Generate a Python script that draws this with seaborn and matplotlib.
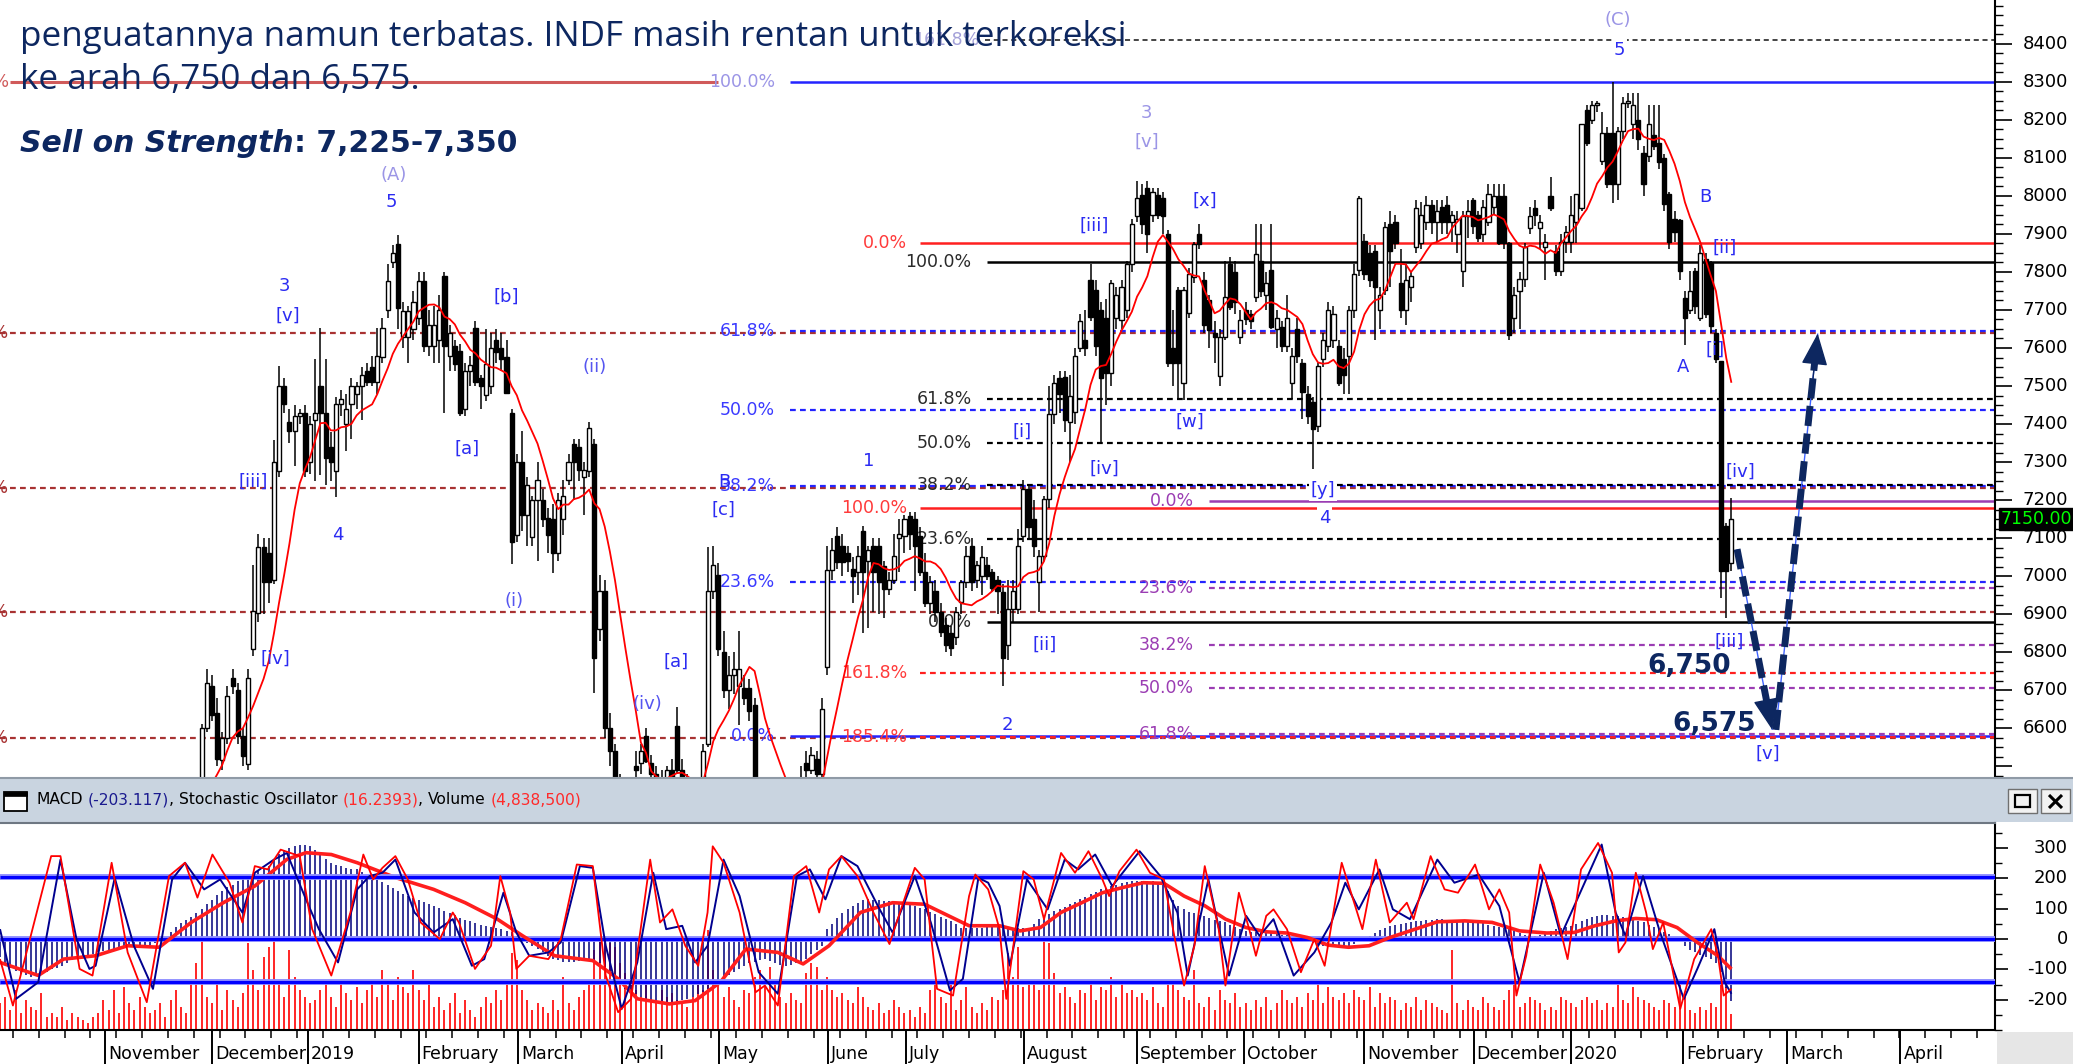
import numpy as np
import pandas as pd
import matplotlib
matplotlib.use("Agg")
import matplotlib.pyplot as plt
import seaborn as sns
from matplotlib.patches import Rectangle
from matplotlib.lines import Line2D
from matplotlib.ticker import MultipleLocator

# ====================== DATA ======================
first_candle_day = 30   # trading-day index of first candle (x axis = trading days)

opens = [
    6150, 6200, 6230, 6280, 6320, 6300, 6380, 6420, 6440, 6450,
    6600, 6712, 6640, 6517, 6575, 6733, 6700, 6580, 6505, 6809,
    6903, 7078, 7060, 6990, 7277, 7500, 7406, 7383, 7420, 7429,
    7300, 7410, 7500, 7429, 7340, 7277, 7453, 7400, 7453, 7480,
    7500, 7540, 7550, 7510, 7576, 7699, 7827, 7874, 7628, 7628,
    7650, 7680, 7775, 7605, 7605, 7620, 7790, 7580, 7605, 7593,
    7440, 7540, 7652, 7520, 7476, 7500, 7620, 7600, 7576, 7429,
    7108, 7300, 7160, 7102, 7201, 7200, 7154, 7150, 7060, 7150,
    7254, 7347, 7340, 7260, 7277, 7347, 6860, 6960, 6600, 6540,
    6450, 6400, 6420, 6500, 6510, 6580, 6510, 6480, 6460, 6450,
    6490, 6605, 6490, 6450, 6400, 6430, 6400, 6560, 6961, 7002,
    6800, 6700, 6740, 6710, 6705, 6705, 6660, 6430, 6360, 6390,
    6350, 6320, 6360, 6400, 6380, 6440, 6510, 6490, 6520, 6480,
    6760, 7016, 7106, 7080, 7060, 7020, 7011, 7120, 7040, 7080,
    7080, 7028, 6967, 6990, 7100, 7106, 7157, 7150, 7106, 7011,
    6930, 6960, 6906, 6872, 6850, 6840, 6933, 6985, 7080, 6990,
    7000, 7030, 7010, 6990, 6958, 6820, 6915, 6915, 7106, 7228,
    7150, 6985, 7054, 7202, 7427, 7520, 7523, 7405, 7431, 7601,
    7622, 7778, 7752, 7700, 7680, 7535, 7680, 7673, 7700, 7820,
    7947, 8003, 8020, 7950, 8003, 7995, 7899, 7600, 7752, 7509,
    7691, 7787, 7899, 7780, 7726, 7640, 7526, 7630, 7821, 7800,
    7630, 7700, 7690, 7735, 7830, 7740, 7804, 7650, 7656, 7604,
    7509, 7650, 7561, 7480, 7457, 7396, 7570, 7604, 7620, 7604,
    7570, 7578, 7700, 7804, 7882, 7850, 7856, 7700, 7752, 7925,
    7930, 7770, 7700, 7760, 7865, 7875, 7930, 7976, 7930, 7970,
    7976, 7930, 7900, 7803, 7947, 7990, 7950, 7900, 7930, 7970,
    7999, 7999, 7875, 7680, 7751, 7782, 7916, 7968, 7916, 7865,
    7999, 7854, 7803, 7880, 7880, 7930, 7967, 8225, 8200, 8240,
    8091, 8165, 8165, 8032, 8170, 8243, 8190, 8200, 8114, 8105,
    8160, 8140, 8100, 8004, 7940, 7937, 7731, 7700, 7803, 7679,
    7834, 7823, 7640, 7566, 7132, 7034,
]
highs = [
    6220, 6260, 6300, 6350, 6380, 6400, 6450, 6460, 6465, 6612,
    6756, 6740, 6680, 6590, 6710, 6756, 6720, 6600, 6756, 7030,
    7110, 7100, 7100, 7358, 7552, 7520, 7440, 7450, 7440, 7450,
    7420, 7570, 7652, 7570, 7380, 7470, 7490, 7480, 7520, 7510,
    7550, 7560, 7580, 7652, 7680, 7821, 7870, 7897, 7720, 7710,
    7750, 7800, 7800, 7700, 7710, 7740, 7800, 7660, 7620, 7610,
    7560, 7580, 7670, 7530, 7650, 7640, 7650, 7640, 7620, 7440,
    7320, 7383, 7260, 7210, 7300, 7230, 7180, 7190, 7220, 7254,
    7320, 7360, 7360, 7300, 7406, 7360, 7003, 6990, 6640, 6560,
    6480, 6450, 6470, 6540, 6560, 6600, 6530, 6500, 6490, 6500,
    6520, 6657, 6520, 6480, 6450, 6470, 6560, 7078, 7080, 7034,
    6855, 6790, 6800, 6855, 6740, 6730, 6680, 6460, 6420, 6440,
    6400, 6380, 6420, 6440, 6460, 6500, 6540, 6550, 6540, 6680,
    7080, 7100, 7130, 7110, 7080, 7050, 7080, 7132, 7080, 7100,
    7100, 7040, 7010, 7110, 7150, 7160, 7170, 7170, 7130, 7060,
    7000, 6990, 6930, 6890, 6870, 6920, 6990, 7080, 7100, 7040,
    7080, 7050, 7020, 7000, 6980, 6990, 6990, 7125, 7254, 7240,
    7200, 7070, 7210, 7500, 7530, 7540, 7540, 7530, 7600, 7690,
    7700, 7820, 7780, 7720, 7730, 7780, 7760, 7780, 7830, 7940,
    8038, 8030, 8038, 8020, 8020, 8010, 7910, 7700, 7760, 7760,
    7810, 7880, 7925, 7800, 7740, 7670, 7650, 7830, 7840, 7830,
    7700, 7720, 7700, 7925, 7925, 7800, 7925, 7700, 7670, 7740,
    7600, 7680, 7570, 7500, 7470, 7560, 7640, 7720, 7710, 7620,
    7600, 7710, 7820, 8000, 7900, 7870, 7870, 7760, 7930, 7960,
    7950, 7860, 7820, 7800, 7990, 7985, 8000, 7990, 7990, 7990,
    8000, 7960, 7960, 7960, 7990, 7995, 7960, 7990, 8030, 8030,
    8030, 8030, 7880, 7760, 7800, 7875, 7970, 7990, 7950, 7900,
    8050, 7870, 7900, 7920, 8000, 8004, 8188, 8240, 8250, 8250,
    8220, 8180, 8300, 8180, 8260, 8270, 8270, 8270, 8130, 8240,
    8240, 8240, 8110, 8010, 7960, 7940, 7750, 7803, 7810, 7870,
    7850, 7830, 7650, 7566, 7140, 7205,
]
lows = [
    6100, 6150, 6200, 6250, 6280, 6290, 6350, 6380, 6400, 6440,
    6590, 6620, 6500, 6490, 6560, 6690, 6560, 6500, 6490, 6790,
    6880, 6900, 6930, 6980, 7260, 7430, 7350, 7290, 7400, 7260,
    7270, 7250, 7266, 7240, 7250, 7207, 7420, 7330, 7360, 7440,
    7410, 7500, 7500, 7480, 7560, 7680, 7810, 7650, 7600, 7560,
    7620, 7660, 7590, 7580, 7560, 7560, 7429, 7540, 7540, 7420,
    7420, 7500, 7500, 7440, 7460, 7480, 7560, 7540, 7480, 7031,
    7090, 7120, 7080, 7080, 7040, 7130, 7061, 7008, 7040, 7108,
    7240, 7200, 7250, 7160, 7260, 6692, 6830, 6575, 6500, 6430,
    6380, 6350, 6380, 6470, 6480, 6510, 6460, 6430, 6420, 6440,
    6440, 6480, 6420, 6380, 6360, 6380, 6390, 6550, 6940, 6790,
    6680, 6650, 6690, 6610, 6660, 6620, 6400, 6340, 6300, 6330,
    6280, 6270, 6330, 6360, 6350, 6400, 6470, 6480, 6460, 6470,
    6740, 6990, 7020, 7000, 7010, 6930, 6950, 6850, 6863, 6906,
    6900, 6890, 6950, 6980, 7010, 7060, 7070, 6960, 7000, 6920,
    6900, 6880, 6840, 6800, 6790, 6820, 6900, 6970, 6960, 6970,
    6950, 6990, 6960, 6900, 6710, 6780, 6880, 6900, 7090, 7100,
    7050, 6906, 7040, 7180, 7400, 7430, 7380, 7300, 7400, 7590,
    7580, 7670, 7580, 7353, 7450, 7500, 7650, 7650, 7680, 7800,
    7930, 7900, 7850, 7930, 7940, 7900, 7550, 7500, 7462, 7462,
    7680, 7770, 7860, 7640, 7600, 7560, 7500, 7620, 7700, 7690,
    7610, 7660, 7650, 7720, 7735, 7700, 7650, 7600, 7590, 7590,
    7465, 7560, 7413, 7400, 7283, 7380, 7550, 7590, 7600, 7500,
    7480, 7480, 7680, 7790, 7780, 7760, 7620, 7650, 7740, 7760,
    7860, 7680, 7660, 7720, 7850, 7860, 7910, 7900, 7880, 7900,
    7900, 7880, 7850, 7760, 7890, 7900, 7880, 7880, 7920, 7950,
    7870, 7860, 7620, 7640, 7650, 7760, 7900, 7920, 7860, 7780,
    7960, 7790, 7790, 7850, 7850, 7875, 7960, 8130, 8190, 8220,
    8080, 8020, 7981, 7990, 8150, 8230, 8150, 8120, 8000, 8090,
    8120, 8070, 7960, 7860, 7880, 7780, 7607, 7690, 7690, 7670,
    7680, 7640, 7560, 6942, 6890, 7014,
]
closes = [
    6200, 6230, 6280, 6320, 6300, 6380, 6420, 6440, 6450, 6600,
    6720, 6634, 6520, 6575, 6686, 6710, 6580, 6528, 6733, 6908,
    7078, 6985, 6985, 7300, 7500, 7453, 7383, 7420, 7430, 7277,
    7400, 7430, 7429, 7312, 7300, 7453, 7465, 7440, 7500, 7500,
    7530, 7510, 7510, 7580, 7652, 7775, 7850, 7704, 7698, 7698,
    7720, 7775, 7605, 7660, 7660, 7700, 7605, 7640, 7558, 7429,
    7540, 7555, 7511, 7500, 7558, 7600, 7590, 7570, 7482, 7090,
    7300, 7160, 7240, 7201, 7254, 7150, 7108, 7060, 7200, 7210,
    7300, 7300, 7280, 7280, 7390, 6786, 6960, 6600, 6540, 6450,
    6400, 6420, 6440, 6490, 6540, 6513, 6480, 6460, 6450, 6490,
    6470, 6490, 6450, 6400, 6430, 6400, 6540, 6960, 7029, 6809,
    6700, 6740, 6756, 6756, 6680, 6645, 6430, 6360, 6390, 6350,
    6320, 6360, 6400, 6380, 6440, 6460, 6490, 6530, 6480, 6650,
    7016, 7070, 7037, 7037, 7040, 7000, 7054, 7011, 7070, 7011,
    6985, 6967, 6990, 7054, 7110, 7150, 7110, 7080, 7011, 6930,
    6985, 6906, 6854, 6820, 6810, 6906, 6985, 7054, 6985, 7030,
    7050, 7000, 6970, 6960, 6785, 6915, 6960, 7080, 7228, 7130,
    7080, 7054, 7202, 7427, 7509, 7480, 7410, 7474, 7578, 7670,
    7600, 7682, 7604, 7520, 7535, 7770, 7740, 7760, 7820, 7925,
    7995, 7925, 7899, 8010, 7950, 7947, 7561, 7560, 7561, 7752,
    7795, 7873, 7873, 7660, 7648, 7630, 7630, 7735, 7708, 7720,
    7674, 7675, 7670, 7847, 7750, 7770, 7656, 7680, 7604, 7680,
    7578, 7580, 7483, 7420, 7388, 7552, 7620, 7700, 7690, 7509,
    7530, 7700, 7795, 7995, 7795, 7780, 7761, 7740, 7917, 7856,
    7875, 7700, 7780, 7790, 7969, 7949, 7976, 7930, 7960, 7930,
    7930, 7950, 7940, 7947, 7960, 7920, 7890, 7970, 8004, 8000,
    7875, 7875, 7633, 7740, 7782, 7865, 7947, 7950, 7930, 7880,
    7968, 7803, 7880, 7905, 7950, 8004, 8188, 8138, 8240, 8245,
    8165, 8032, 8032, 8170, 8243, 8250, 8240, 8150, 8032, 8188,
    8130, 8090, 7978, 7880, 7906, 7803, 7679, 7751, 7710, 7849,
    7690, 7659, 7570, 7014, 7014, 7150,
]

# MACD (blue histogram), one value per trading day 0..335
macd_hist = [
    -60, -80, -95, -105, -115, -120, -125, -122, -115, -110,
    -100, -95, -88, -80, -70, -66, -60, -55, -50, -44,
    -38, -35, -33, -30, -28, -26, -24, -22, -20, -18,
    -12, -5, 8, 25, 40, 52, 62, 72, 85, 100,
    115, 130, 145, 160, 172, 180, 190, 197, 205, 215,
    225, 235, 242, 260, 280, 295, 302, 307, 312, 310,
    307, 295, 280, 265, 252, 245, 240, 236, 232, 230,
    222, 212, 204, 196, 188, 180, 170, 160, 150, 142,
    135, 128, 122, 116, 110, 102, 94, 86, 78, 70,
    64, 58, 52, 48, 44, 40, 36, 32, 28, 22,
    10, 0, -12, -22, -33, -44, -55, -66, -70, -74,
    -77, -76, -72, -68, -66, -70, -80, -92, -110, -130,
    -150, -165, -175, -182, -190, -197, -200, -204, -207, -208,
    -208, -205, -200, -197, -190, -182, -174, -164, -152, -140,
    -128, -120, -108, -98, -88, -80, -74, -70, -66, -72,
    -80, -85, -88, -85, -80, -77, -65, -50, -35, -22,
    33, 50, 68, 85, 99, 110, 120, 128, 131, 130,
    128, 126, 124, 122, 121, 120, 115, 110, 104, 99,
    90, 82, 74, 66, 58, 50, 38, 36, 36, 37,
    38, 40, 42, 44, 40, 36, 34, 35, 36, 38,
    50, 66, 75, 84, 92, 99, 107, 115, 123, 131,
    140, 148, 156, 164, 170, 175, 180, 186, 188, 190,
    191, 192, 191, 190, 188, 186, 160, 130, 110, 100,
    90, 86, 80, 77, 70, 64, 60, 55, 48, 40,
    33, 27, 25, 23, 22, 21, 20, 18, 15, 12,
    8, 4, 0, -6, -12, -18, -22, -25, -27, -27,
    -25, -22, -15, -5, 5, 11, 20, 30, 38, 42,
    46, 50, 52, 55, 58, 60, 62, 64, 66, 66,
    64, 62, 60, 58, 57, 56, 55, 52, 48, 44,
    40, 38, 34, 28, 20, 15, 12, 11, 15, 22,
    28, 32, 36, 40, 44, 50, 58, 65, 72, 77,
    78, 78, 77, 77, 74, 70, 64, 58, 55, 48,
    40, 32, 24, 16, 6, -5, -22, -35, -44, -52,
    -60, -66, -80, -110, -160, -203.117,
]

# Volume in millions of shares, one value per trading day 0..335
volume_m = [
    8, 10, 6, 12, 5, 9, 7, 6, 11, 4,
    5, 4, 7, 3, 5, 4, 3, 2, 4, 5,
    9, 6, 12, 5, 13, 8, 6, 10, 7, 5,
    6, 8, 4, 9, 12, 7, 5, 14, 20, 28,
    10, 8, 14, 6, 12, 9, 7, 11, 26, 18,
    12, 22, 25, 27, 14, 10, 24, 16, 12, 10,
    8, 9, 12, 14, 10, 7, 15, 11, 9, 13,
    8, 12, 15, 10, 18, 14, 9, 16, 13, 11,
    18, 12, 9, 14, 7, 10, 6, 8, 11, 5,
    9, 6, 4, 7, 10, 8, 12, 9, 14, 23,
    21, 12, 9, 6, 8, 7, 5, 9, 6, 16,
    8, 6, 10, 12, 14, 24, 28, 27, 26, 25,
    20, 17, 14, 12, 10, 15, 9, 8, 12, 10,
    11, 9, 8, 7, 10, 14, 12, 30, 18, 15,
    10, 13, 9, 7, 12, 11, 16, 18, 13, 19,
    14, 10, 8, 11, 9, 8, 17, 20, 19, 12,
    16, 12, 10, 11, 9, 8, 13, 10, 7, 6,
    8, 5, 6, 9, 7, 5, 6, 4, 7, 5,
    12, 15, 10, 8, 14, 6, 9, 13, 7, 5,
    8, 6, 10, 9, 12, 23, 16, 25, 13, 14,
    15, 12, 28, 26, 17, 11, 13, 10, 8, 12,
    11, 14, 9, 13, 12, 16, 10, 14, 11, 12,
    10, 11, 9, 13, 8, 7, 15, 14, 12, 10,
    9, 18, 8, 7, 10, 6, 12, 9, 8, 11,
    7, 8, 6, 9, 7, 10, 6, 8, 12, 9,
    8, 10, 7, 11, 9, 14, 8, 13, 10, 9,
    11, 8, 12, 10, 9, 13, 7, 11, 8, 10,
    9, 6, 8, 7, 10, 6, 9, 8, 7, 6,
    5, 24, 8, 6, 9, 7, 6, 10, 8, 7,
    6, 9, 12, 14, 7, 8, 10, 9, 8, 6,
    7, 6, 10, 9, 8, 7, 9, 10, 8, 9,
    6, 8, 7, 15, 9, 8, 13, 10, 9, 8,
    7, 6, 9, 8, 7, 14, 10, 6, 5, 7,
    6, 8, 7, 14, 13, 4.8385,
]

# Stochastic %K (red) and %D (blue), read at turning points
stoch_k_day = [0, 2.5, 9.9, 11.7, 15.4, 17.9, 21.6, 24.7, 28.4, 32.7,
               35.8, 38.2, 41.1, 44.4, 46.9, 49.3, 51.8, 54.3, 58, 60.4,
               64.1, 67.8, 70.3, 72.2, 74, 76.5, 78.9, 81.4, 85.1, 87.6,
               88.8, 91.9, 95, 96.8, 98.7, 99.9, 102.4, 106.1, 108.5, 111.6,
               114.7, 117.2, 119.6, 122.1, 125.8, 127.7, 130.1, 132.6, 135.1, 136.9,
               137.9, 140, 143.1, 146.2, 148, 150.5, 153.6, 156, 158.5, 160.4,
               162.8, 165.9, 169, 172.1, 175.2, 177, 178.9, 181.3, 184.4, 187.5,
               188.7, 191.2, 193.4,
               194.7, 198, 200, 202, 205.3, 208, 210.6, 213.3, 214.6, 216.6,
               219.9, 222.5, 225.2, 227.2, 229.1, 231.1, 233.1, 235.8, 237.1, 239.7,
               241.7, 243, 245, 246.4, 249, 251.7, 254.3, 256.3, 259.6, 261.6,
               263.6, 266.2, 268.9, 272.2, 273.5, 276.8, 279.5, 282.1, 285.4, 288.1,
               290.1, 292, 293.4, 295.3, 298, 300.6, 303.3, 305.9, 309.2, 311.9,
               313.2, 314.5, 316.5, 318.5, 319.8, 321.8, 325.1, 327.8, 331.1, 332.4,
               333.5, 335]
stoch_k = [33.2, 6.7, 92, 92, 27.6, 23.8, 88.2, 37, 8.6, 80.6,
           88.2, 68.3, 92.9, 76.8, 54.1, 86.3, 84.4, 95.7, 92, 50.3,
           23.8, 59.8, 92.9, 78.7, 85.3, 92, 78.7, 54.1, 44.6, 59.8,
           54.1, 27.6, 40.8, 80.6, 59.8, 27.6, 35.1, 33.2, 44.6, 87.2,
           86.3, 23.8, 2.9, 10.5, 90, 54.1, 61.6, 40.8, 29.4, 59.8,
           97.6, 88.2, 59.8, 14.3, 18.1, 6.7, 80.6, 86.3, 59.8, 84.4,
           92, 80.6, 59.8, 41.8, 69.2, 85.3, 78.7, 16.2, 12.4, 69.2,
           81.5, 73, 50.3,
           10.5, 83.4, 78.7, 56, 93.8, 82.5, 94.8, 78.7, 69.2, 83.4,
           95.7, 82.5, 78.7, 46.5, 18.1, 40.8, 86.3, 50.3, 18.1, 71.1,
           50.3, 35.1, 57.9, 61.6, 50.3, 25.7, 44.6, 29.4, 88.2, 69.2,
           50.3, 90, 54.1, 65.4, 56, 92, 73, 71.1, 87.2, 61.6,
           73, 59.8, 12.4, 35.1, 87.2, 65.4, 33.2, 84.4, 99.5, 82.5,
           37, 42.7, 82.5, 59.8, 38.9, 54.1, 4.8, 33.2, 50.3, 35.1,
           12.4, 16.2393]
stoch_d_day = [0, 3.1, 7.4, 11.7, 14.8, 17.3, 18.5, 22.2, 25.9, 29.6,
               33.3, 35.8, 39.5, 42.6, 46.9, 49.3, 53, 55.5, 59.2, 61.7,
               65.4, 69.1, 71.5, 74, 76.5, 80.2, 83.9, 87.6, 91.3, 93.7,
               97.4, 99.9, 102.4, 106.1, 108.5, 112.2, 114.7, 117.2, 120.3, 123.3,
               126.4, 128.9, 132, 134.5, 136.9, 140, 143.1, 146.8, 150.5, 154.2,
               156.7, 159.7, 162.8, 165.9, 170.2, 172.7, 177, 180.1, 183.8, 186.3,
               189.3, 191.2, 193.4,
               195.4, 198.7, 202.7, 206, 208.6, 211.9, 215.2, 220.5, 224.5, 227.8,
               229.8, 233.8, 237.8, 241.1, 243.7, 246.4, 250.3, 254.3, 257.6, 260.3,
               262.9, 266.9, 269.5, 272.8, 278.1, 281.4, 286.1, 290.1, 294, 298.7,
               302, 306.6, 309.9, 312.6, 314.5, 317.9, 321.2, 325.8, 328.4, 331.7,
               333.7, 335]
stoch_d = [50.3, 10.5, 20, 90, 44.6, 27.6, 29.4, 79.6, 40.8, 16.2,
           78.7, 88.2, 73, 78.7, 59.8, 82.5, 90, 93.8, 67.3, 50.3,
           31.3, 73, 80.6, 82.5, 90, 59.8, 48.4, 56, 29.4, 33.2,
           71.1, 48.4, 35.1, 37, 42.7, 86.3, 85.3, 40.8, 4.8, 31.3,
           82.5, 50.3, 52.2, 31.3, 40.8, 90, 69.2, 25.7, 13.4, 80.6,
           84.4, 67.3, 92, 86.3, 61.6, 48.4, 80.6, 54.1, 15.3, 21.9,
           79.6, 76.8, 63.5,
           29.4, 78.7, 61.6, 90, 84.4, 92.9, 74.9, 94.8, 80.6, 59.8,
           23.8, 78.7, 23.8, 57.9, 46.5, 56, 23.8, 37, 54.1, 76.8,
           61.6, 84.4, 61.6, 56, 90, 76.8, 81.5, 63.5, 20, 82.5,
           46.5, 76.8, 98.6, 59.8, 46.5, 80.6, 48.4, 10.5, 27.6, 50.3,
           20, 13.4]

# MACD signal line (thick red)
signal_day = [0, 7.4, 12.3, 18.5, 24.7, 30.8, 37, 43.2, 49.3, 55.5,
              59.2, 64.1, 69.1, 76.5, 83.9, 90, 96.2, 101.1, 107.3, 114.7,
              119.6, 123.3, 129.5, 134.5, 139.4, 144.3, 150.5, 155.4, 160.4, 166.5,
              172.7, 178.9, 187.5, 193.4,
              197.4, 201.3, 205.3, 209.3, 213.3, 217.2, 221.2, 225.2, 229.1, 233.1,
              237.1, 241.1, 245, 249, 253, 257, 260.9, 264.9, 268.9, 272.8,
              278.1, 283.4, 288.7, 294, 299.3, 304.6, 308.6, 312.6, 316.5, 320.5,
              324.5, 328.4, 332.4, 335]
signal_val = [-77, -120, -66, -55, -22, -27, 55, 120, 175, 263,
              285, 279, 252, 203, 164, 120, 66, 11, -55, -71,
              -131, -197, -214, -203, -142, -33, -44, -82, -22, 88,
              120, 115, 44, 44,
              27, 38, 88, 120, 153, 170, 186, 184, 142, 110,
              66, 38, 24, 20, 5, -20, -27, -22, 5, 27,
              57, 60, 55, 27, 20, 22, 44, 60, 68, 64,
              38, -11, -55, -99]

# x axis: first trading day of each month
month_labels = ['November', 'December', '2019', 'February', 'March', 'April', 'May',
                'June', 'July', 'August', 'September', 'October', 'November',
                'December', '2020', 'February', 'March', 'April']
month_day = [20.3, 41.0, 59.6, 81.0, 100.2, 120.3, 139.1, 160.2, 175.2, 198.1,
             219.9, 240.6, 264.0, 285.1, 303.9, 325.7, 345.8, 367.7]

price_tick_labels = [8400, 8300, 8200, 8100, 8000, 7900, 7800, 7700, 7600, 7500,
                     7400, 7300, 7200, 7100, 7000, 6900, 6800, 6700, 6600]
ind_tick_labels = [300, 200, 100, 0, -100, -200]
last_price = 7150.00

# Fibonacci levels drawn on the chart
red_fib_levels = [7875, 7180, 6745, 6578]
red_fib_labels = ['0.0%', '100.0%', '161.8%', '185.4%']
black_fib_levels = [7827, 7465, 7350, 7240, 7097, 6880]
black_fib_labels = ['100.0%', '61.8%', '50.0%', '38.2%', '23.6%', '0.0%']
blue_fib_levels = [8300, 7645, 7437, 7236, 6985, 6581]
blue_fib_labels = ['100.0%', '61.8%', '50.0%', '38.2%', '23.6%', '0.0%']
purple_fib_levels = [7198, 6968, 6820, 6705, 6586]
purple_fib_labels = ['0.0%', '23.6%', '38.2%', '50.0%', '61.8%']
darkred_levels = [8300, 7640, 7232, 6905, 6575]
darkred_labels = ['100.0%', '61.8%', '38.2%', '23.6%', '0.0%']
ext_level = 8410
ext_label = '161.8%'

# Elliott-wave labels
wave_text = ['(A)', '5', '3', '[v]', '[iii]', '4', '[iv]', '[a]', '[b]', '(ii)',
             '(i)', '(iv)', '[a]', 'B', '[c]', '1', '2', '[i]', '[ii]', '[iii]',
             '[iv]', '3', '[v]', '[x]', '[w]', '[y]', '4', '(C)', '5', 'B',
             '[ii]', 'A', '[i]', '[iv]', '[iii]', '[v]']
wave_day = [76.1, 75.8, 55.1, 55.6, 49.0, 65.3, 53.2, 90.4, 98.0, 115.0,
            99.4, 125.2, 130.8, 140.2, 140.0, 168.0, 195.0, 197.7, 202.1, 211.8,
            213.6, 221.9, 221.9, 233.2, 230.3, 256.0, 256.3, 313.0, 313.4, 329.9,
            333.6, 325.6, 331.9, 336.8, 334.6, 342.1]
wave_price = [8055, 7985, 7763, 7684, 7248, 7107, 6783, 7336, 7734, 7549,
              6935, 6663, 6776, 7248, 7174, 7302, 6610, 7379, 6820, 7921,
              7283, 8219, 8143, 7986, 7405, 7227, 7153, 8462, 8384, 7997,
              7863, 7550, 7596, 7275, 6828, 6532]

# projected path (annotation arrows) and target texts
arrow_down_day = [336.1, 342.9]
arrow_down_price = [7071, 6596]
arrow_up_day = [343.6, 351.7]
arrow_up_price = [6596, 7638]
target_text = ['6,750', '6,575']
target_day = [318.8, 323.6]
target_price = [6764, 6611]

text_line2 = "penguatannya namun terbatas. INDF masih rentan untuk terkoreksi"
text_line3 = "ke arah 6,750 dan 6,575."
sell_head = "Sell on Strength"
sell_range = ": 7,225-7,350"
panel_title = [("MACD", "black"), ("(-203.117)", "#1b1b8f"), (",", "black"),
               ("Stochastic Oscillator", "black"), ("(16.2393)", "#ff2a2a"), (",", "black"),
               ("Volume", "black"), ("(4,838,500)", "#ff2a2a")]

for arr in (opens, highs, lows):
    assert len(arr) == len(closes)
assert len(macd_hist) == 336 and len(volume_m) == 336
assert len(stoch_k_day) == len(stoch_k) and len(stoch_d_day) == len(stoch_d)
assert len(signal_day) == len(signal_val)
assert len(wave_text) == len(wave_day) == len(wave_price)

# ====================== STYLE / LAYOUT ======================
sns.set_theme(style="white")
plt.rcParams['font.family'] = ['DejaVu Sans']
plt.rcParams['lines.solid_capstyle'] = 'butt'

W, H = 2073, 1064
fig = plt.figure(figsize=(W / 100, H / 100), dpi=100)
fig.patch.set_facecolor('white')


def fx(p):
    return p / W


def fy(p):
    return 1 - p / H


X_MAX = 386
ax = fig.add_axes([0, fy(777), fx(1995), 777 / H])
ax_ind = fig.add_axes([0, fy(1030), fx(1995), (1030 - 823) / H])

NAVY = '#0d2760'
BLUE_LBL = '#2b2bf2'
LAV = '#9b95e6'
MID = '#5656f0'
RED = '#ff2020'
DRED = '#a83232'
BLK = '#2a2a2a'
BLU = '#2424ff'
PUR = '#9b3db3'
DASH = (0, (2.6, 1.9))

# ---------------- price panel ----------------
ax.set_xlim(0, X_MAX)
ax.set_ylim(6472, 8515)
for s in ['left', 'top', 'bottom']:
    ax.spines[s].set_visible(False)
ax.spines['right'].set_color('black')
ax.spines['right'].set_linewidth(1.5)
ax.set_facecolor('white')
ax.set_xticks([])
ax.yaxis.tick_right()
ax.set_yticks(price_tick_labels + [6500])
ax.set_yticklabels([])
ax.yaxis.set_minor_locator(MultipleLocator(25))
ax.tick_params(axis='y', which='major', length=12, width=1.2, color='black',
               right=True, left=False, labelright=False, direction='out')
ax.tick_params(axis='y', which='minor', length=6, width=1.0, color='black',
               right=True, left=False, direction='out')
for v in price_tick_labels:
    ax.annotate(f"{v}", xy=(1, v), xycoords=('axes fraction', 'data'),
                xytext=(73, 0), textcoords='offset pixels', ha='right', va='center',
                fontsize=13, color='black', annotation_clip=False)

LW_F = 1.6
# dark red (left) levels
for i, (lv, lb) in enumerate(zip(darkred_levels, darkred_labels)):
    if i == 0:
        ax.hlines(lv, 2, 139, colors='#d05a5a', linewidth=2.2, zorder=1)
        ax.text(1.8, lv, lb, color='#d05a5a', fontsize=12.5, ha='right', va='center', zorder=2)
    else:
        ax.hlines(lv, 0, X_MAX, colors=DRED, linewidth=LW_F, linestyles=[DASH], zorder=1)
        ax.text(1.8, lv, lb, color=DRED, fontsize=12.5, ha='right', va='center', zorder=2)
# blue levels
for i, (lv, lb) in enumerate(zip(blue_fib_levels, blue_fib_labels)):
    solid = i in (0, len(blue_fib_levels) - 1)
    ax.hlines(lv, 152.8, X_MAX, colors=BLU, linewidth=LW_F if not solid else 1.8,
              linestyles='solid' if solid else [DASH], zorder=1)
    ax.text(150, lv, lb, color=LAV if i == 0 else '#3a3aff', fontsize=12.5,
            ha='right', va='center', zorder=2)
# red levels
for i, (lv, lb) in enumerate(zip(red_fib_levels, red_fib_labels)):
    solid = i < 2
    ax.hlines(lv, 178, X_MAX, colors=RED, linewidth=1.8 if solid else LW_F,
              linestyles='solid' if solid else [DASH], zorder=1)
    ax.text(175.5, lv, lb, color='#ff3a3a', fontsize=12.5, ha='right', va='center', zorder=2)
# black levels
for i, (lv, lb) in enumerate(zip(black_fib_levels, black_fib_labels)):
    solid = i in (0, len(black_fib_levels) - 1)
    ax.hlines(lv, 191, X_MAX, colors='black', linewidth=1.8 if solid else LW_F,
              linestyles='solid' if solid else [DASH], zorder=1)
    ax.text(188, lv, lb, color=BLK, fontsize=12.5, ha='right', va='center', zorder=2)
# purple levels
for i, (lv, lb) in enumerate(zip(purple_fib_levels, purple_fib_labels)):
    solid = i == 0
    ax.hlines(lv, 234, X_MAX, colors=PUR, linewidth=1.8 if solid else LW_F,
              linestyles='solid' if solid else [DASH], zorder=1)
    ax.text(231, lv, lb, color=PUR, fontsize=12.5, ha='right', va='center', zorder=2)
# extension level at top
ax.hlines(ext_level, 190.5, X_MAX, colors='#444444', linewidth=1.4, linestyles=[DASH], zorder=1)
ax.text(189.5, ext_level, ext_label, color='#a3a0d8', fontsize=12.5, ha='right',
        va='center', zorder=2)

# candlesticks
days = np.arange(first_candle_day, first_candle_day + len(closes))
o = np.array(opens, float)
h = np.array(highs, float)
lo = np.array(lows, float)
c = np.array(closes, float)
ax.vlines(days, lo, h, color='black', linewidth=1.1, zorder=3)
up = c >= o
body_bottom = np.minimum(o, c)
body_h = np.maximum(np.abs(c - o), 5)
ax.bar(days, body_h, bottom=body_bottom, width=0.8,
       color=np.where(up, 'white', 'black'), edgecolor='black', linewidth=1.0, zorder=4)

# 10-day moving average of closes
ma_df = pd.DataFrame({'day': days, 'ma': pd.Series(closes).rolling(10).mean()}).dropna()
sns.lineplot(data=ma_df, x='day', y='ma', ax=ax, color='#ff0000', linewidth=1.3,
             estimator=None, legend=False, zorder=5)
ax.set_xlabel('')
ax.set_ylabel('')
ax.set_xlim(0, X_MAX)
ax.set_ylim(6472, 8515)

# wave labels
lav_set = {0, 21, 22, 27}
mid_set = {9, 10, 11}
boxed = {25, 26, 28}
for i, (t, d, p) in enumerate(zip(wave_text, wave_day, wave_price)):
    col = LAV if i in lav_set else (MID if i in mid_set else BLUE_LBL)
    kw = {}
    if i in boxed:
        kw['bbox'] = dict(boxstyle='square,pad=0.1', fc='white', ec='none')
    ax.text(d, p, t, color=col, fontsize=13, ha='center', va='center', zorder=6, **kw)

# last price box
ax.annotate(f"{last_price:.2f}", xy=(1, last_price), xycoords=('axes fraction', 'data'),
            xytext=(6, 0), textcoords='offset pixels', ha='left', va='center',
            fontsize=12.5, color='#00ff00', annotation_clip=False, zorder=20,
            bbox=dict(boxstyle='square,pad=0.12', fc='black', ec='black'))


# projection arrows
def draw_arrow(xs, ys):
    tip = ax.transData.transform((xs[-1], ys[-1]))
    prev = ax.transData.transform((xs[-2], ys[-2]))
    vec = tip - prev
    vec = vec / np.hypot(*vec)
    inv = ax.transData.inverted()
    shaft_end = inv.transform(tip - vec * 22)
    head_base = inv.transform(tip - vec * 45)
    ax.plot(xs, ys, color='#3f63ff', linewidth=1.0, zorder=7)
    ax.plot([xs[0], shaft_end[0]], [ys[0], shaft_end[1]], color=NAVY, linewidth=5,
            dashes=(2.9, 1.1), dash_capstyle='butt', zorder=8)
    ax.annotate('', xy=(xs[-1], ys[-1]), xytext=(head_base[0], head_base[1]),
                arrowprops=dict(arrowstyle='-|>,head_length=1.45,head_width=0.6',
                                mutation_scale=14, color=NAVY, lw=1.0,
                                shrinkA=0, shrinkB=0), zorder=9)


draw_arrow(arrow_down_day, arrow_down_price)
draw_arrow(arrow_up_day, arrow_up_price)

for t, d, p in zip(target_text, target_day, target_price):
    ax.text(d, p, t, color=NAVY, fontsize=19, fontweight='bold', ha='left',
            va='center', zorder=10)

# ---------------- indicator panel ----------------
ax_vol = ax_ind.twinx()
ax_st = ax_ind.twinx()
ax_vol.set_zorder(1)
ax_ind.set_zorder(2)
ax_st.set_zorder(3)
ax_ind.patch.set_visible(False)
ax_vol.patch.set_visible(True)
ax_vol.patch.set_facecolor('white')

all_days = np.arange(len(macd_hist))
ax_vol.vlines(all_days, 0, volume_m, color='#ff0000', linewidth=1.2)
ax_vol.set_ylim(0, 62)
ax_vol.set_yticks([])

ax_ind.vlines(all_days, 0, macd_hist, color='#00007a', linewidth=1.1, zorder=2)
ax_ind.axhline(0, color='#8c8cff', linewidth=4.2, zorder=3)
ax_ind.axhline(0, color='#0000ff', linewidth=2.2, zorder=3)
sns.lineplot(x=signal_day, y=signal_val, ax=ax_ind, color='#ff1e1e', linewidth=2.6,
             estimator=None, legend=False, zorder=4)

for lvl in (80, 20):
    ax_st.axhline(lvl, color='#8c8cff', linewidth=4.2, zorder=1)
    ax_st.axhline(lvl, color='#0000ff', linewidth=2.2, zorder=1)
sns.lineplot(x=stoch_d_day, y=stoch_d, ax=ax_st, color='#00008f', linewidth=1.4,
             estimator=None, legend=False, zorder=2)
sns.lineplot(x=stoch_k_day, y=stoch_k, ax=ax_st, color='#ff0000', linewidth=1.3,
             estimator=None, legend=False, zorder=3)
ax_st.set_ylim(-7.27, 110.9)
ax_st.set_yticks([])
for a in (ax_vol, ax_st):
    for s in a.spines.values():
        s.set_visible(False)
    a.set_ylabel('')
    a.set_xlabel('')

ax_ind.set_xlim(0, X_MAX)
ax_ind.set_ylim(-300, 383)
ax_ind.set_xlabel('')
ax_ind.set_ylabel('')
ax_ind.spines['left'].set_visible(False)
ax_ind.spines['top'].set_visible(True)
ax_ind.spines['top'].set_color('#6e7782')
ax_ind.spines['top'].set_linewidth(1.5)
ax_ind.spines['right'].set_color('black')
ax_ind.spines['right'].set_linewidth(1.5)
ax_ind.spines['bottom'].set_color('black')
ax_ind.spines['bottom'].set_linewidth(1.5)
ax_ind.yaxis.tick_right()
ax_ind.set_yticks(ind_tick_labels)
ax_ind.set_yticklabels([])
ax_ind.yaxis.set_minor_locator(MultipleLocator(50))
ax_ind.tick_params(axis='y', which='major', length=9, width=1.2, color='black',
                   right=True, left=False, labelright=False, direction='out')
ax_ind.tick_params(axis='y', which='minor', length=5, width=1.0, color='black',
                   right=True, left=False, direction='out')
for v in ind_tick_labels:
    ax_ind.annotate(f"{v}", xy=(1, v), xycoords=('axes fraction', 'data'),
                    xytext=(73, 0), textcoords='offset pixels', ha='right', va='center',
                    fontsize=13, color='black', annotation_clip=False)

ax_ind.set_xticks(month_day)
ax_ind.set_xticklabels([])
ax_ind.set_xticks(np.arange(2.5, X_MAX, 5.0), minor=True)
ax_ind.tick_params(axis='x', which='major', length=25, width=1.4, color='black',
                   bottom=True, labelbottom=False, direction='out')
ax_ind.tick_params(axis='x', which='minor', length=6, width=1.1, color='black',
                   bottom=True, direction='out')
for lab, d in zip(month_labels, month_day):
    ax_ind.annotate(lab, xy=(d, 0), xycoords=('data', 'axes fraction'),
                    xytext=(3, -15), textcoords='offset pixels', ha='left', va='top',
                    fontsize=12.5, color='black', annotation_clip=False)

# ---------------- window chrome ----------------
fig.add_artist(Rectangle((0, fy(822)), 1, (822 - 777) / H, transform=fig.transFigure,
                         facecolor='#c9d4e0', edgecolor='none', zorder=0.5))
fig.add_artist(Line2D([0, 1], [fy(778), fy(778)], transform=fig.transFigure,
                      color='#8f9aa6', linewidth=1.5, zorder=0.6))
fig.add_artist(Rectangle((fx(1997), 0), 1 - fx(1997), 32 / H,
                         transform=fig.transFigure, facecolor='#e6e6e6',
                         edgecolor='none', zorder=0.5))
# window icon
fig.add_artist(Rectangle((fx(4), fy(811)), fx(23), 19 / H, transform=fig.transFigure,
                         facecolor='white', edgecolor='black', linewidth=1.3, zorder=5))
fig.add_artist(Rectangle((fx(4), fy(796)), fx(23), 4 / H, transform=fig.transFigure,
                         facecolor='black', edgecolor='black', linewidth=0.5, zorder=5))
# buttons
for bx in (2008, 2041):
    fig.add_artist(Rectangle((fx(bx), fy(813)), fx(29), 24 / H, transform=fig.transFigure,
                             facecolor='#f2f2f2', edgecolor='#707070', linewidth=1.0,
                             zorder=5))
fig.add_artist(Rectangle((fx(2015), fy(807)), fx(15), 12 / H, transform=fig.transFigure,
                         facecolor='none', edgecolor='black', linewidth=1.6, zorder=6))
fig.add_artist(Line2D([fx(2049), fx(2062)], [fy(795), fy(808)], transform=fig.transFigure,
                      color='black', linewidth=2.2, zorder=6))
fig.add_artist(Line2D([fx(2049), fx(2062)], [fy(808), fy(795)], transform=fig.transFigure,
                      color='black', linewidth=2.2, zorder=6))

renderer = fig.canvas.get_renderer()


def seq_text(x_px, y_px, parts, base_kw):
    x = x_px
    for s, kw, gap in parts:
        d = dict(base_kw)
        d.update(kw)
        t = fig.text(fx(x), fy(y_px), s, ha='left', va='center', zorder=10, **d)
        bb = t.get_window_extent(renderer=renderer)
        x += bb.width + gap


sp = 5
title_parts = []
for i, (s, col) in enumerate(panel_title):
    nxt = panel_title[i + 1][0] if i + 1 < len(panel_title) else ''
    gap = 0 if nxt == ',' else sp
    title_parts.append((s, {'color': col}, gap))
seq_text(36, 800, title_parts, {'fontsize': 11.2})

# ---------------- headline texts ----------------
fig.text(fx(20), fy(37), text_line2, fontsize=25.2, color=NAVY, family='Open Sans',
         ha='left', va='center', zorder=10)
fig.text(fx(20), fy(80), text_line3, fontsize=25.2, color=NAVY, family='Open Sans',
         ha='left', va='center', zorder=10)
seq_text(20, 143, [(sell_head, {'fontstyle': 'oblique'}, 0), (sell_range, {}, 0)],
         {'fontsize': 21.5, 'fontweight': 'bold', 'color': NAVY})

fig.savefig('out.png', dpi=100, facecolor='white')
